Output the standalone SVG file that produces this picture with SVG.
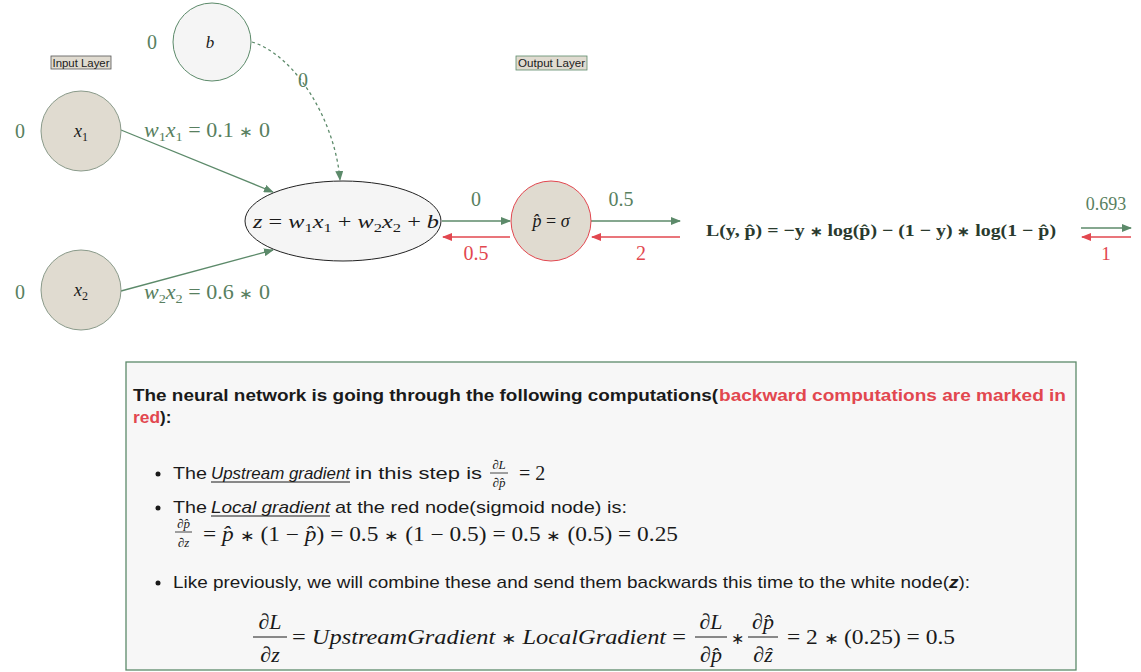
<svg xmlns="http://www.w3.org/2000/svg" width="1141" height="672" viewBox="0 0 1141 672">
<defs>
<marker id="ag" markerWidth="10" markerHeight="8" refX="9" refY="4" orient="auto" markerUnits="userSpaceOnUse"><path d="M0,0 L10,4 L0,8 Z" fill="#5c8a6a"/></marker>
<marker id="ar" markerWidth="10" markerHeight="8" refX="9" refY="4" orient="auto" markerUnits="userSpaceOnUse"><path d="M0,0 L10,4 L0,8 Z" fill="#e2474f"/></marker>
</defs>
<style>
.m{font-family:"Liberation Serif",serif;}
.g{fill:#587f60;}
.r{fill:#e2474f;}
.k{fill:#1a1a1a;}
.s{font-family:"Liberation Sans",Arial,sans-serif;}
.fe{stroke:#5c8a6a;stroke-width:1.3;fill:none;}
.be{stroke:#e2474f;stroke-width:1.3;fill:none;}
.lbl{font-size:20px;}
.st{font-size:0.75em;}
</style>
<rect width="1141" height="672" fill="#ffffff"/>

<g id="connectors">
<path class="fe" d="M121,130 L273,192" marker-end="url(#ag)"/>
<path class="fe" d="M121,291 L273,250" marker-end="url(#ag)"/>
<path class="fe" d="M252,42 C295,55 335,120 340,180" stroke-dasharray="3,3" marker-end="url(#ag)"/>
<path class="fe" d="M442,221 L510,221" marker-end="url(#ag)"/>
<path class="be" d="M510,237 L443,237" marker-end="url(#ar)"/>
<path class="fe" d="M591,221 L680,221" marker-end="url(#ag)"/>
<path class="be" d="M680,237 L592,237" marker-end="url(#ar)"/>
<path class="fe" d="M1081,228 L1131,228" marker-end="url(#ag)"/>
<path class="be" d="M1131,237 L1082,237" marker-end="url(#ar)"/>
<text class="m g lbl" x="303" y="87" text-anchor="middle">0</text>
<text class="m g lbl" x="476" y="206" text-anchor="middle">0</text>
<text class="m r lbl" x="476" y="260" text-anchor="middle">0.5</text>
<text class="m g lbl" x="621" y="206" text-anchor="middle">0.5</text>
<text class="m r lbl" x="641" y="260" text-anchor="middle">2</text>
<text class="m g" font-size="18" x="1106" y="210" text-anchor="middle">0.693</text>
<text class="m r" font-size="19" x="1106" y="260" text-anchor="middle">1</text>
<text class="m g lbl" x="144" y="137" textLength="126" lengthAdjust="spacingAndGlyphs"><tspan font-style="italic">w</tspan><tspan font-size="13" dy="4">1</tspan><tspan font-style="italic" dy="-4">x</tspan><tspan font-size="13" dy="4">1</tspan><tspan dy="-4"> = 0.1 <tspan class="st">∗</tspan> 0</tspan></text>
<text class="m g lbl" x="144" y="299" textLength="126" lengthAdjust="spacingAndGlyphs"><tspan font-style="italic">w</tspan><tspan font-size="13" dy="4">2</tspan><tspan font-style="italic" dy="-4">x</tspan><tspan font-size="13" dy="4">2</tspan><tspan dy="-4"> = 0.6 <tspan class="st">∗</tspan> 0</tspan></text>
</g>

<g id="input-layer-label">
<rect x="51" y="56" width="60" height="13" fill="#e0dbd0" stroke="#555" stroke-width="0.8"/>
<text class="s k" font-size="11" x="81" y="66.5" text-anchor="middle" textLength="57" lengthAdjust="spacingAndGlyphs">Input Layer</text>
</g>
<g id="output-layer-label">
<rect x="516" y="56" width="71" height="14" fill="#e0dbd0" stroke="#5c8a6a" stroke-width="0.8"/>
<text class="s k" font-size="11" x="551.5" y="67" text-anchor="middle" textLength="67" lengthAdjust="spacingAndGlyphs">Output Layer</text>
</g>

<g id="node-b">
<circle cx="212" cy="42" r="39" fill="#f5f5f5" stroke="#5c8a6a" stroke-width="1"/>
<text class="m k" font-size="17" font-style="italic" x="210" y="48" text-anchor="middle">b</text>
<text class="m g lbl" x="152" y="49" text-anchor="middle">0</text>
</g>
<g id="node-x1">
<circle cx="81" cy="131" r="40" fill="#e0dbd0" stroke="#8a9a8a" stroke-width="1"/>
<text class="m k" font-size="18" x="81" y="137" text-anchor="middle"><tspan font-style="italic">x</tspan><tspan font-size="12" dy="4">1</tspan></text>
<text class="m g lbl" x="20" y="138" text-anchor="middle">0</text>
</g>
<g id="node-x2">
<circle cx="81" cy="290" r="40" fill="#e0dbd0" stroke="#8a9a8a" stroke-width="1"/>
<text class="m k" font-size="18" x="81" y="296" text-anchor="middle"><tspan font-style="italic">x</tspan><tspan font-size="12" dy="4">2</tspan></text>
<text class="m g lbl" x="20" y="299" text-anchor="middle">0</text>
</g>
<g id="node-z">
<ellipse cx="343" cy="221" rx="98" ry="40" fill="#f5f5f5" stroke="#222" stroke-width="1"/>
<text class="m k" font-size="19" x="253" y="228" textLength="186" lengthAdjust="spacingAndGlyphs"><tspan font-style="italic">z</tspan> = <tspan font-style="italic">w</tspan><tspan font-size="13" dy="4">1</tspan><tspan font-style="italic" dy="-4">x</tspan><tspan font-size="13" dy="4">1</tspan><tspan dy="-4"> + </tspan><tspan font-style="italic">w</tspan><tspan font-size="13" dy="4">2</tspan><tspan font-style="italic" dy="-4">x</tspan><tspan font-size="13" dy="4">2</tspan><tspan dy="-4"> + </tspan><tspan font-style="italic">b</tspan></text>
</g>
<g id="node-p">
<circle cx="551" cy="221" r="40" fill="#e0dbd0" stroke="#e2474f" stroke-width="1"/>
<text class="m k" font-size="18" x="551" y="227" text-anchor="middle"><tspan font-style="italic">p̂</tspan> = <tspan font-style="italic">σ</tspan></text>
</g>
<g id="node-loss">
<text class="m" fill="#2a3a2e" font-size="17" font-weight="bold" x="706" y="236" textLength="350" lengthAdjust="spacingAndGlyphs">L(y, p̂) = −y <tspan class="st">∗</tspan> log(p̂) − (1 − y) <tspan class="st">∗</tspan> log(1 − p̂)</text>
</g>

<g id="explanation">
<rect x="126" y="362" width="950" height="308" fill="#f7f7f7" stroke="#5c8a6a" stroke-width="1.3"/>
<text class="s k" font-size="17" font-weight="bold" x="133" y="401" textLength="585" lengthAdjust="spacingAndGlyphs">The neural network is going through the following computations(</text>
<text class="s r" font-size="17" font-weight="bold" x="719" y="401" textLength="347" lengthAdjust="spacingAndGlyphs">backward computations are marked in</text>
<text class="s r" font-size="17" font-weight="bold" x="133" y="423" textLength="27" lengthAdjust="spacingAndGlyphs">red</text>
<text class="s k" font-size="17" font-weight="bold" x="160" y="423">):</text>

<circle cx="158" cy="474" r="2.5" fill="#1a1a1a"/>
<text class="s k" font-size="17" x="173" y="479" textLength="34" lengthAdjust="spacingAndGlyphs">The</text>
<text class="s k" font-size="17" font-style="italic" x="211" y="479" textLength="139" lengthAdjust="spacingAndGlyphs">Upstream gradient</text>
<line x1="211" y1="482" x2="350" y2="482" stroke="#1a1a1a" stroke-width="1"/>
<text class="s k" font-size="17" x="355" y="479" textLength="127" lengthAdjust="spacingAndGlyphs">in this step is</text>
<text class="m k" font-size="13" font-style="italic" x="499" y="469" text-anchor="middle">∂L</text>
<line x1="490" y1="473" x2="508" y2="473" stroke="#1a1a1a" stroke-width="0.8"/>
<text class="m k" font-size="13" font-style="italic" x="499" y="487" text-anchor="middle">∂p̂</text>
<text class="m k" font-size="20" x="519" y="480">= 2</text>

<circle cx="158" cy="508" r="2.5" fill="#1a1a1a"/>
<text class="s k" font-size="17" x="173" y="513" textLength="34" lengthAdjust="spacingAndGlyphs">The</text>
<text class="s k" font-size="17" font-style="italic" x="211" y="513" textLength="119" lengthAdjust="spacingAndGlyphs">Local gradient</text>
<line x1="211" y1="516" x2="330" y2="516" stroke="#1a1a1a" stroke-width="1"/>
<text class="s k" font-size="17" x="335" y="513" textLength="292" lengthAdjust="spacingAndGlyphs">at the red node(sigmoid node) is:</text>
<text class="m k" font-size="13" font-style="italic" x="183.5" y="528" text-anchor="middle">∂p̂</text>
<line x1="175" y1="532" x2="192" y2="532" stroke="#1a1a1a" stroke-width="0.8"/>
<text class="m k" font-size="13" font-style="italic" x="183.5" y="547" text-anchor="middle">∂z</text>
<text class="m k" font-size="20" x="203" y="541" textLength="475" lengthAdjust="spacingAndGlyphs">= <tspan font-style="italic">p̂</tspan> <tspan class="st">∗</tspan> (1 − <tspan font-style="italic">p̂</tspan>) = 0.5 <tspan class="st">∗</tspan> (1 − 0.5) = 0.5 <tspan class="st">∗</tspan> (0.5) = 0.25</text>

<circle cx="158" cy="583" r="2.5" fill="#1a1a1a"/>
<text class="s k" font-size="17" x="173" y="588" textLength="797" lengthAdjust="spacingAndGlyphs">Like previously, we will combine these and send them backwards this time to the white node(<tspan font-weight="bold" font-style="italic">z</tspan>):</text>

<text class="m k" font-size="22" font-style="italic" x="270" y="629" text-anchor="middle">∂L</text>
<line x1="253" y1="637" x2="287" y2="637" stroke="#1a1a1a" stroke-width="1"/>
<text class="m k" font-size="22" font-style="italic" x="270" y="662" text-anchor="middle">∂z</text>
<text class="m k" font-size="21" x="292" y="644" textLength="394" lengthAdjust="spacingAndGlyphs">= <tspan font-style="italic">UpstreamGradient</tspan> <tspan class="st">∗</tspan> <tspan font-style="italic">LocalGradient</tspan> =</text>
<text class="m k" font-size="22" font-style="italic" x="711" y="629" text-anchor="middle">∂L</text>
<line x1="695" y1="637" x2="727" y2="637" stroke="#1a1a1a" stroke-width="1"/>
<text class="m k" font-size="22" font-style="italic" x="711" y="662" text-anchor="middle">∂p̂</text>
<text class="m k" font-size="16" x="737" y="644" text-anchor="middle">∗</text>
<text class="m k" font-size="22" font-style="italic" x="763" y="629" text-anchor="middle">∂p̂</text>
<line x1="748" y1="637" x2="778" y2="637" stroke="#1a1a1a" stroke-width="1"/>
<text class="m k" font-size="22" font-style="italic" x="763" y="662" text-anchor="middle">∂ẑ</text>
<text class="m k" font-size="21" x="787" y="644" textLength="168" lengthAdjust="spacingAndGlyphs">= 2 <tspan class="st">∗</tspan> (0.25) = 0.5</text>
</g>
</svg>
